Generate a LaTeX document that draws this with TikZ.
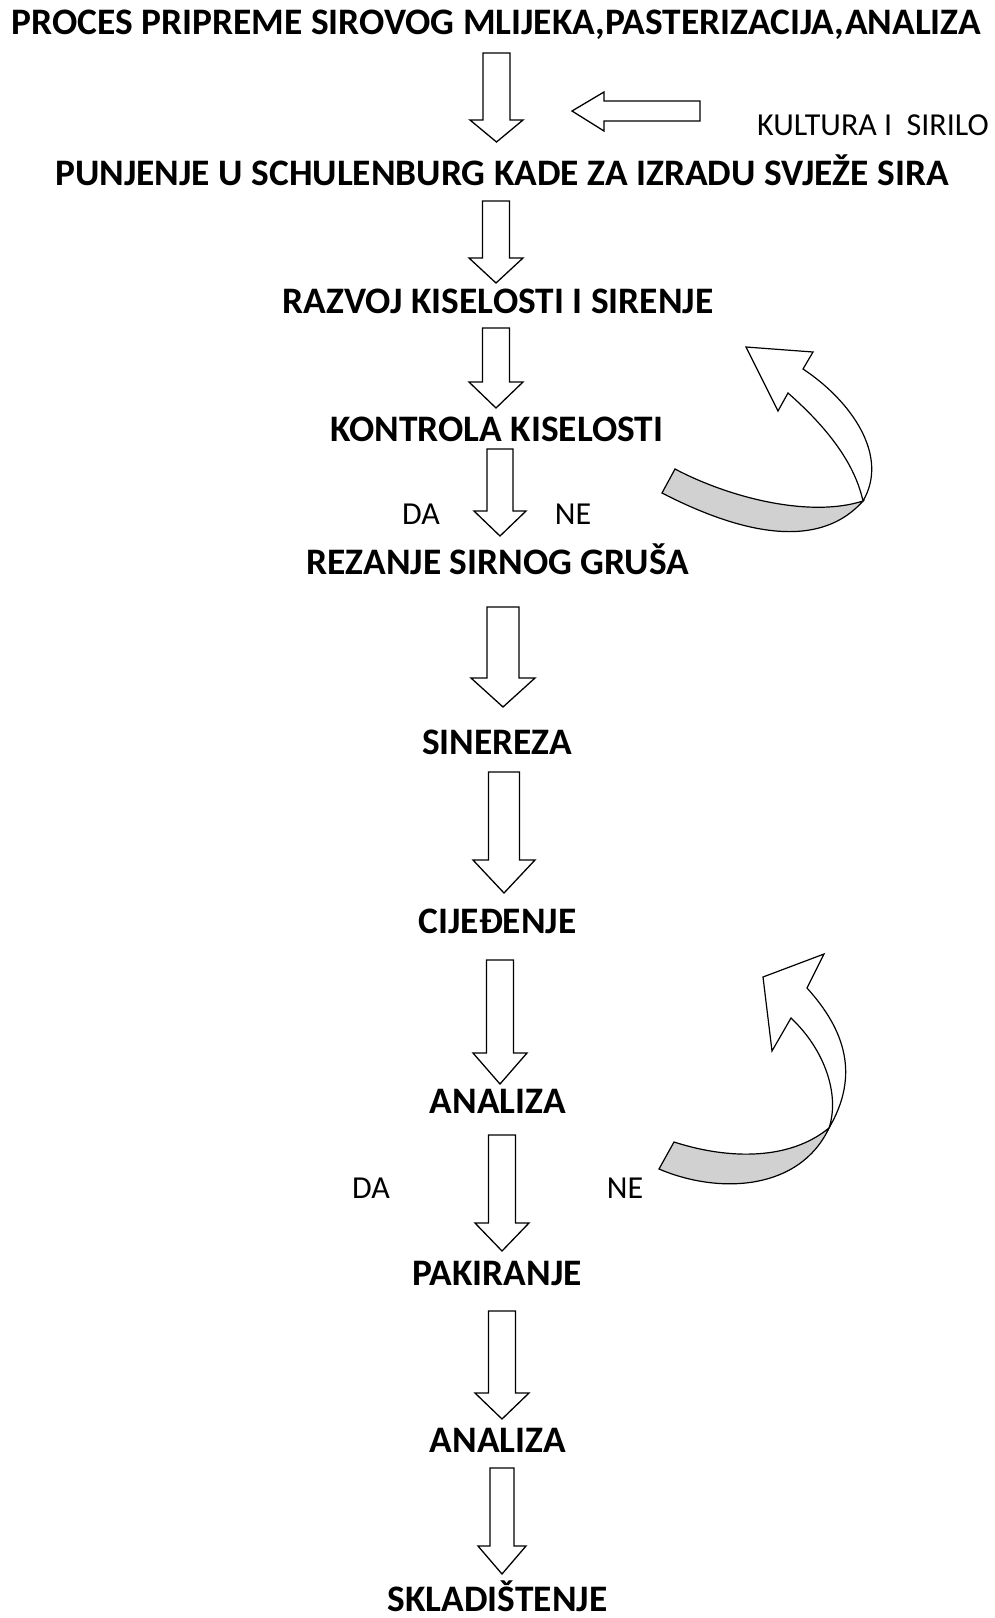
\documentclass[tikz,border=0pt]{standalone}
\usepackage{fontspec}
\setmainfont{Carlito}
\tikzset{
  steptext/.style={font=\bfseries\fontsize{37.4}{44}\selectfont, inner sep=0pt, anchor=base},
  sidetext/.style={font=\fontsize{32}{38}\selectfont, inner sep=0pt, anchor=base},
  blockline/.style={draw=black, line width=1.3pt, fill=white, line join=miter},
  ribbon/.style={draw=black, line width=1.2pt, line join=miter},
  pics/blockdown/.style n args={4}{code={
    \draw[blockline] (-#3,0) -- (-#3,#1) -- (-#4,#1) -- (0,#2) -- (#4,#1) -- (#3,#1) -- (#3,0) -- cycle;
  }},
}
\begin{document}
\begin{tikzpicture}[x=1pt,y=-1pt]
\useasboundingbox (0,0) rectangle (995,1618);
% steps
\node[steptext] (proces) at (496.5,34) {PROCES PRIPREME SIROVOG MLIJEKA,PASTERIZACIJA,ANALIZA};
\node[sidetext, anchor=base east] (kultura) at (989,135) {KULTURA I\ \ SIRILO};
\node[steptext] (punjenje) at (502,185) {PUNJENJE U SCHULENBURG KADE ZA IZRADU SVJEŽE SIRA};
\node[steptext] (razvoj) at (498,313) {RAZVOJ KISELOSTI I SIRENJE};
\node[steptext] (kontrola) at (497,441) {KONTROLA KISELOSTI};
\node[sidetext] (da1) at (421,524) {DA};
\node[sidetext] (ne1) at (573,524) {NE};
\node[steptext] (rezanje) at (498,574) {REZANJE SIRNOG GRUŠA};
\node[steptext] (sinereza) at (497,754) {SINEREZA};
\node[steptext] (cijedenje) at (497.5,933) {CIJEĐENJE};
\node[steptext] (analiza) at (498,1113) {ANALIZA};
\node[sidetext] (da2) at (371,1198) {DA};
\node[sidetext] (ne2) at (625,1198) {NE};
\node[steptext] (pakiranje) at (497,1285) {PAKIRANJE};
\node[steptext] (analizb) at (498,1452) {ANALIZA};
\node[steptext] (skladistenje) at (497.5,1611) {SKLADIŠTENJE};
% down arrows
\pic at (496.5,53) {blockdown={67}{89}{13.5}{26.5}};
\pic at (496,201) {blockdown={57}{82}{13.5}{27}};
\pic at (496,328) {blockdown={54}{80}{13.5}{27}};
\pic at (500,449) {blockdown={62}{87}{13}{26}};
\pic at (503,607) {blockdown={71}{100}{16}{32}};
\pic at (504,772) {blockdown={88}{121}{15.5}{31}};
\pic at (500,960) {blockdown={93}{124}{13.5}{27}};
\pic at (502,1135) {blockdown={88}{116}{13.5}{27}};
\pic at (502,1311) {blockdown={82}{108}{13.5}{27}};
\pic at (502,1468) {blockdown={78}{106}{12}{24}};
% arrow from kultura
\draw[blockline] (700,101) -- (604,101) -- (604,92) -- (572,111) -- (604,131) -- (604,121) -- (700,121) -- cycle;
% back loop after kontrola
\draw[ribbon, fill=black!18] (675,469) -- (662,493) .. controls (730,528) and (815,555) .. (863,501)
  .. controls (810,518) and (730,498) .. (675,469) -- cycle;
\draw[ribbon, fill=white] (863,501) .. controls (890,455) and (850,400) .. (803,369) -- (813,352) -- (746,347)
  -- (778,411) -- (788,393) .. controls (830,430) and (855,465) .. (863,501) -- cycle;
% back loop after analiza
\draw[ribbon, fill=black!18] (674,1142) -- (659,1169) .. controls (720,1195) and (800,1190) .. (829,1128)
  .. controls (790,1160) and (730,1160) .. (674,1142) -- cycle;
\draw[ribbon, fill=white] (829,1128) .. controls (860,1075) and (845,1030) .. (807,988) -- (824,954) -- (763,977)
  -- (772,1051) -- (791,1018) .. controls (825,1050) and (840,1095) .. (829,1128) -- cycle;
\end{tikzpicture}
\end{document}
